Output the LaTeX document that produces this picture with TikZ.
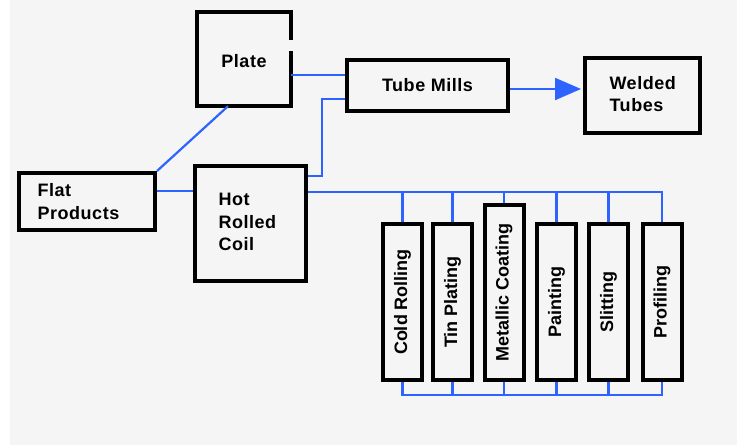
\documentclass[tikz,border=0pt]{standalone}
\usepackage{fontspec}
\setmainfont{Liberation Sans}
\newfontfamily\lblfont[LetterSpace=3]{Liberation Sans}
\usetikzlibrary{arrows.meta}
\definecolor{bg}{HTML}{F5F5F5}
\definecolor{flow}{RGB}{45,100,255}
\tikzset{
  box/.style={draw=black, line width=4pt, fill=none, inner sep=0pt, line join=miter},
  vbox/.style={box, minimum width=39pt},
  hlabel/.style={font=\lblfont\bfseries\fontsize{18}{22.5}\selectfont, align=left},
  vlabel/.style={font=\bfseries\fontsize{18}{22}\selectfont, rotate=90},
  link/.style={draw=flow, line width=2.2pt},
}
\begin{document}
\begin{tikzpicture}[x=1pt,y=-1pt]
\useasboundingbox (0,0) rectangle (737,445);
\fill[white] (0,0) rectangle (737,445);
\fill[bg] (10,0) rectangle (737,445);

% main boxes
\node[inner sep=0pt, minimum width=94pt, minimum height=94pt] (plate) at (244,59) {};
\node[hlabel] (platet) at (244,61) {Plate};
\draw[box, line cap=rect] (plate.east |- 0,38) -- (plate.north east) -- (plate.north west) -- (plate.south west) -- (plate.south east) -- (plate.east |- 0,53);

\node[box, minimum width=136pt, minimum height=57pt] (flat) at (87,201.5) {};
\node[hlabel, anchor=west] (flatt) at (34,201.5) {Flat\\Products};

\node[box, minimum width=111pt, minimum height=115pt] (hot) at (250.5,223.5) {};
\node[hlabel, anchor=west] (hott) at (215,222) {Hot\\Rolled\\Coil};

\node[box, minimum width=161pt, minimum height=51pt, hlabel, align=center] (tube) at (427.5,85.5) {Tube Mills};

\node[box, minimum width=115pt, minimum height=75pt] (weld) at (642.5,95.5) {};
\node[hlabel, anchor=west] (weldt) at (606,94) {Welded\\Tubes};

% vertical boxes
\node[vbox, minimum height=156pt] (cold) at (402.5,302) {};
\node[vlabel] at (cold) {Cold Rolling};
\node[vbox, minimum height=156pt] (tin) at (452.5,302) {};
\node[vlabel] at (tin) {Tin Plating};
\node[vbox, minimum height=175pt] (metal) at (504,292.5) {};
\node[vlabel] at (metal) {Metallic Coating};
\node[vbox, minimum height=156pt] (paint) at (556.5,302) {};
\node[vlabel] at (paint) {Painting};
\node[vbox, minimum height=156pt] (slit) at (608.5,302) {};
\node[vlabel] at (slit) {Slitting};
\node[vbox, minimum height=156pt] (prof) at (662,302) {};
\node[vlabel] at (prof) {Profiling};

\coordinate (bus) at (0,192);
\coordinate (bot) at (0,395);
\coordinate (riser) at (322,0);

% connectors
\draw[link] (plate.east |- 0,75) -- (tube.west |- 0,75);
\draw[link] (tube.west |- 0,99) -- (riser |- 0,99) -- (riser |- 0,176) -- (hot.east |- 0,176);
\draw[link] (flat.east |- 0,191) -- (hot.west |- 0,191);
\draw[link] (flat.north east) -- (plate.south -| 228,0);
\draw[link, -{Triangle[length=26pt,width=22pt]}, shorten >=2pt] (tube.east |- 0,89) -- (weld.west |- 0,89);

\draw[link] (hot.east |- bus) -- (prof.north |- bus) -- (prof.north);
\foreach \n in {cold,tin,metal,paint,slit}
  \draw[link] (\n.north |- bus) -- (\n.north);
\draw[link] (cold.south) -- (cold.south |- bot) -- (prof.south |- bot) -- (prof.south);
\foreach \n in {tin,metal,paint,slit}
  \draw[link] (\n.south) -- (\n.south |- bot);
\end{tikzpicture}
\end{document}
